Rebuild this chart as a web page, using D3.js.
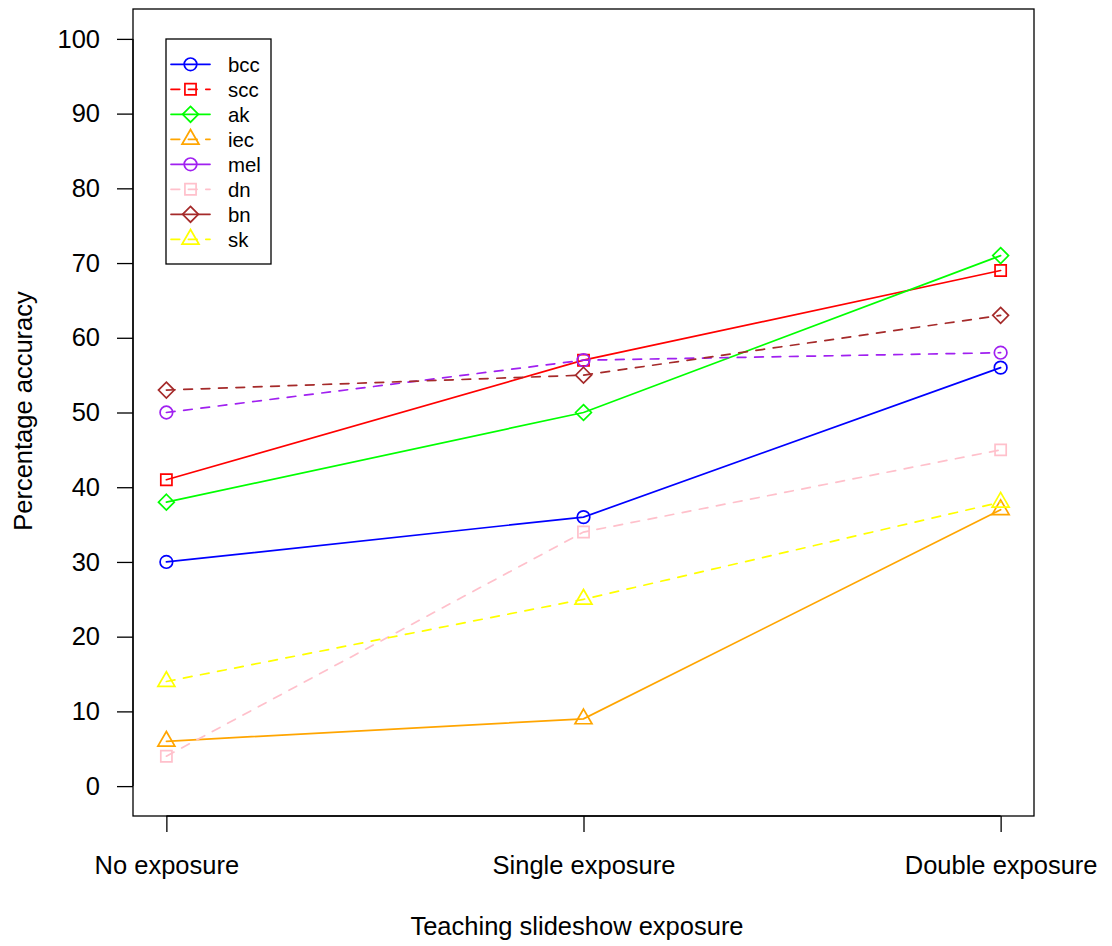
<!DOCTYPE html>
<html>
<head>
<meta charset="utf-8">
<script src="https://cdn.jsdelivr.net/npm/d3@7"></script>
<style>
  html, body { margin: 0; padding: 0; background: #fff; }
  svg { display: block; font-family: "Liberation Sans", Arial, Helvetica, sans-serif; }
</style>
</head>
<body>
<svg id="chart" width="1112" height="946"></svg>
<script>
// ---- data ----
const categories = ["No exposure", "Single exposure", "Double exposure"];
const seriesNames = ["bcc", "scc", "ak", "iec", "mel", "dn", "bn", "sk"];
const bcc = [30, 36, 56];
const scc = [41, 57, 69];
const ak  = [38, 50, 71];
const iec = [6, 9, 37];
const mel = [50, 57, 58];
const dn  = [4, 34, 45];
const bn  = [53, 55, 63];
const sk  = [14, 25, 38];
const yTicks = [0, 10, 20, 30, 40, 50, 60, 70, 80, 90, 100];
const seriesValues = [bcc, scc, ak, iec, mel, dn, bn, sk];
const colors = ["#0000FF", "#FF0000", "#00FF00", "#FFA500", "#A020F0", "#FFC0CB", "#A52A2A", "#FFFF00"];
const shapes = ["circle", "square", "diamond", "triangle", "circle", "square", "diamond", "triangle"];
const plotDashed = [false, false, false, false, true, true, true, true];
const legendDashed = [false, true, false, true, false, true, false, true];

// ---- layout ----
const L = 133, R = 1034, T = 9, B = 816;
const svg = d3.select("#chart");
const x = d3.scaleLinear().domain([-0.08, 2.08]).range([L, R]);
const y = d3.scaleLinear().domain([-4, 104]).range([B, T]);
const fontSize = 25.5;
const dash = "8.7,8.7";
const lw = 1.7;

function markerPath(shape, cx, cy, s) {
  const r = 6.3 * s;
  if (shape === "circle") {
    return d3.path().arc ? (() => { const p = d3.path(); p.moveTo(cx + r, cy); p.arc(cx, cy, r, 0, 2 * Math.PI); p.closePath(); return p.toString(); })() : "";
  }
  if (shape === "square") {
    const h = r * 0.886;
    return `M${cx - h},${cy - h}L${cx + h},${cy - h}L${cx + h},${cy + h}L${cx - h},${cy + h}Z`;
  }
  if (shape === "diamond") {
    const d = r * 1.253;
    return `M${cx},${cy - d}L${cx + d},${cy}L${cx},${cy + d}L${cx - d},${cy}Z`;
  }
  // triangle
  const t0 = 1.555 * r, t1 = 1.347 * r, t2 = 0.778 * r;
  return `M${cx},${cy - t0}L${cx + t1},${cy + t2}L${cx - t1},${cy + t2}Z`;
}

// plot box
svg.append("rect").attr("x", L).attr("y", T).attr("width", R - L).attr("height", B - T)
  .attr("fill", "none").attr("stroke", "#000").attr("stroke-width", 1.3);

// y axis
const yAxis = d3.axisLeft(y).tickValues(yTicks).tickSize(16).tickPadding(17).tickSizeOuter(0);
const gy = svg.append("g").attr("transform", `translate(${L},0)`).call(yAxis);
gy.select(".domain").attr("d", `M0,${y(0)}V${y(100)}`).attr("stroke", "#000").attr("stroke-width", 1.3);
gy.selectAll(".tick line").attr("stroke", "#000").attr("stroke-width", 1.3);
gy.selectAll(".tick text").attr("font-size", fontSize).attr("fill", "#000")
  .attr("font-family", "Liberation Sans, Arial, sans-serif");

// x axis
const xAxis = d3.axisBottom(x).tickValues([0, 1, 2]).tickFormat(i => categories[i])
  .tickSize(16).tickPadding(24).tickSizeOuter(0);
const gx = svg.append("g").attr("transform", `translate(0,${B})`).call(xAxis);
gx.select(".domain").attr("d", `M${x(0)},0H${x(2)}`).attr("stroke", "#000").attr("stroke-width", 1.3);
gx.selectAll(".tick line").attr("stroke", "#000").attr("stroke-width", 1.3);
gx.selectAll(".tick text").attr("font-size", fontSize).attr("fill", "#000")
  .attr("font-family", "Liberation Sans, Arial, sans-serif");

// axis titles
svg.append("text").attr("x", 577).attr("y", 935).attr("text-anchor", "middle")
  .attr("font-size", fontSize).attr("fill", "#000").text("Teaching slideshow exposure");
svg.append("text").attr("transform", "translate(32,411) rotate(-90)").attr("text-anchor", "middle")
  .attr("font-size", fontSize).attr("fill", "#000").text("Percentage accuracy");

// series
const line = d3.line().x((d, i) => x(i)).y(d => y(d));
seriesValues.forEach((vals, k) => {
  const g = svg.append("g");
  g.append("path").attr("d", line(vals)).attr("fill", "none").attr("stroke", colors[k])
    .attr("stroke-width", lw).attr("stroke-linecap", "round")
    .attr("stroke-dasharray", plotDashed[k] ? dash : null);
  vals.forEach((v, i) => {
    g.append("path").attr("d", markerPath(shapes[k], x(i), y(v), 1))
      .attr("fill", "none").attr("stroke", colors[k]).attr("stroke-width", lw);
  });
});

// legend
const lg = svg.append("g");
lg.append("rect").attr("x", 166).attr("y", 39).attr("width", 105).attr("height", 225)
  .attr("fill", "#fff").attr("stroke", "#000").attr("stroke-width", 1.3);
seriesNames.forEach((name, k) => {
  const cy = 64.3 + k * 25;
  lg.append("line").attr("x1", 171).attr("x2", 210).attr("y1", cy).attr("y2", cy)
    .attr("stroke", colors[k]).attr("stroke-width", lw).attr("stroke-linecap", "round")
    .attr("stroke-dasharray", legendDashed[k] ? dash : null);
  lg.append("path").attr("d", markerPath(shapes[k], 190.5, cy, 1))
    .attr("fill", "none").attr("stroke", colors[k]).attr("stroke-width", lw);
  lg.append("text").attr("x", 228).attr("y", cy + 7.3).attr("font-size", 20.4)
    .attr("fill", "#000").text(name);
});
</script>
</body>
</html>
